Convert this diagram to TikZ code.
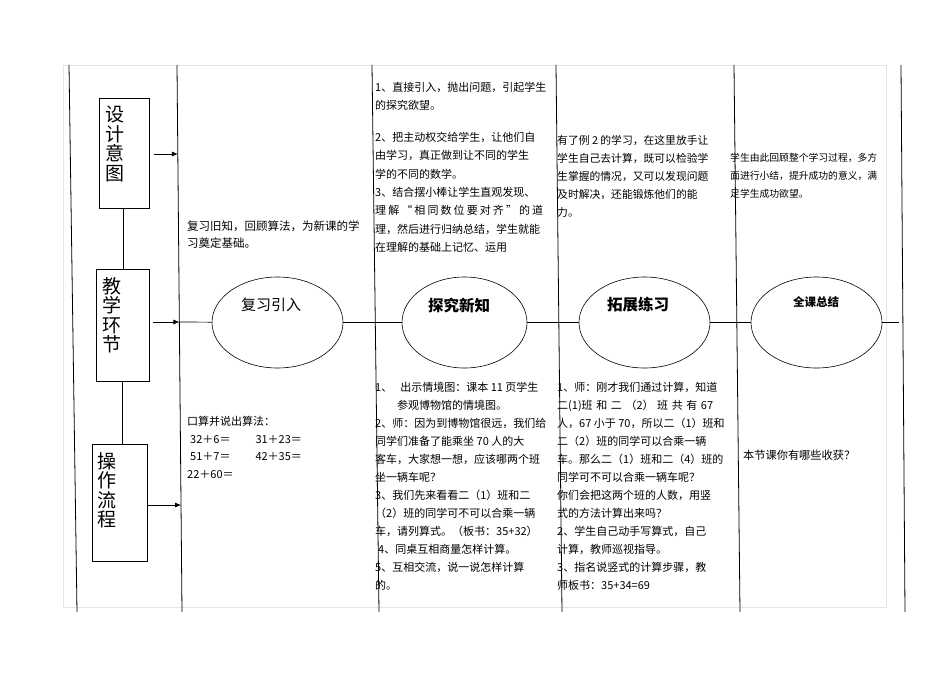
\documentclass[tikz,border=0pt]{standalone}
\usepackage{fontspec}
\newfontfamily\cjk{Noto Sans CJK SC}
\usetikzlibrary{arrows.meta,shapes.geometric}
\begin{document}
\begin{tikzpicture}[x=1pt,y=-1pt,
  vline/.style={line width=0.8pt,black},
  lbox/.style={draw,line width=0.7pt,anchor=north west,inner sep=0},
  vlabel/.style={anchor=north west,inner sep=0,align=left,font=\cjk\fontsize{19}{19.5}\selectfont},
  oval/.style={draw,ellipse,line width=0.6pt,minimum width=131,minimum height=91,inner sep=0},
  conn/.style={line width=0.7pt},
  arr/.style={line width=0.7pt,-{Latex[length=6pt,width=5pt]}},
  txt/.style={anchor=north west,inner sep=0,align=left,font=\cjk\fontsize{11}{18}\selectfont},
  small/.style={anchor=north west,inner sep=0,align=left,font=\cjk\fontsize{9.8}{18}\selectfont},
  olabel/.style={inner sep=0,font=\cjk\fontsize{15}{15}\selectfont}]
\useasboundingbox[fill=white] (0,0) rectangle (950,672);
% faint page frame
\draw[gray!20,line width=0.6pt] (63,65) rectangle (886,607);
% vertical lines
\coordinate (L1t) at (69,65);  \coordinate (L1b) at (77,612);
\coordinate (L2t) at (177,65); \coordinate (L2b) at (182,612);
\coordinate (L3t) at (372,65); \coordinate (L3b) at (379,612);
\coordinate (L4t) at (556,65); \coordinate (L4b) at (562,612);
\coordinate (L5t) at (734,65); \coordinate (L5b) at (740,612);
\coordinate (L6t) at (901,65); \coordinate (L6b) at (905,612);
\foreach \i in {1,...,6} {\draw[vline] (L\i t) -- (L\i b);}
% left boxes
\node[lbox,minimum width=50,minimum height=110] (b1) at (99,98) {};
\node[lbox,minimum width=53,minimum height=112] (b2) at (96,269) {};
\node[lbox,minimum width=55,minimum height=117] (b3) at (92,444) {};
\node[vlabel] (t1) at (105,106) {设\\计\\意\\图};
\node[vlabel] (t2) at (102,277) {教\\学\\环\\节};
\node[vlabel] (t3) at (97,452) {操\\作\\流\\程};
\draw[conn] (b1.south -| 123,0) -- (b2.north -| 123,0);
\draw[conn] (b2.south -| 122,0) -- (b3.north -| 122,0);
\coordinate (a1) at (177.9,154);
\coordinate (a2) at (179.4,322);
\coordinate (a3) at (181.1,505);
\draw[arr] ([xshift=4]b1.east |- a1) -- (a1);
\draw[arr] ([xshift=3]b2.east |- a2) -- (a2);
\draw[arr] (b3.east |- a3) -- (a3);
% ellipses
\node[oval] (e1) at (277.5,322.5) {};
\node[oval,minimum width=125] (e2) at (464.5,322.5) {};
\node[oval] (e3) at (644.5,322.5) {};
\node[oval] (e4) at (816.5,322.5) {};
\coordinate (eend) at (899,322.5);
\draw[conn] (a2) -- (e1);
\draw[conn] (e1) -- (e2);
\draw[conn] (e2) -- (e3);
\draw[conn] (e3) -- (e4);
\draw[conn] (e4) -- (eend);
\node[olabel] (l1) at (271,305) {复习引入};
\node[olabel,font=\cjk\bfseries\fontsize{15.5}{15.5}\selectfont] (l2) at (459,305) {探究新知};
\node[olabel,font=\cjk\bfseries\fontsize{15.5}{15.5}\selectfont] (l3) at (638,305) {拓展练习};
\node[olabel,font=\cjk\bfseries\fontsize{11.5}{11.5}\selectfont] (l4) at (816,302) {全课总结};
% column 2
\node[txt,font=\cjk\fontsize{11.5}{17}\selectfont] (c2a) at (187,221) {复习旧知，回顾算法，为新课的学\\习奠定基础。};
\node[txt,font=\cjk\fontsize{11}{17.5}\selectfont] (c2b) at (187,416) {口算并说出算法：\\
\hspace*{3pt}32＋6＝\hspace{25pt}31＋23＝\\
\hspace*{3pt}51＋7＝\hspace{25pt}42＋35＝\\
22＋60＝};
% column 3
\node[txt] (c3a) at (375,82) {1、直接引入，抛出问题，引起学生\\的探究欲望。};
\node[txt,font=\cjk\fontsize{11}{18.3}\selectfont] (c3b) at (375,132) {2、把主动权交给学生，让他们自\\由学习，真正做到让不同的学生\\学的不同的数学。\\3、结合摆小棒让学生直观发现、\\\makebox[168pt][s]{理\hfil 解\hfil “\hfil 相\hfil 同\hfil 数\hfil 位\hfil 要\hfil 对\hfil 齐\hfil ”\hfil 的\hfil 道}\\理，然后进行归纳总结，学生就能\\在理解的基础上记忆、运用};
\node[txt] (c3c) at (375,382) {1、\hspace{8pt}出示情境图：课本 11 页学生\\
\hspace*{22pt}参观博物馆的情境图。\\
2、师：因为到博物馆很远，我们给\\同学们准备了能乘坐 70 人的大\\客车，大家想一想，应该哪两个班\\坐一辆车呢？\\3、我们先来看看二（1）班和二\\（2）班的同学可不可以合乘一辆\\车，请列算式。（板书：35+32）\\
\hspace*{3pt}4、同桌互相商量怎样计算。\\5、互相交流，说一说怎样计算\\的。};
% column 4
\node[txt,font=\cjk\fontsize{10.8}{18}\selectfont] (c4a) at (557,135) {有了例 2 的学习，在这里放手让\\学生自己去计算，既可以检验学\\生掌握的情况，又可以发现问题\\及时解决，还能锻炼他们的能\\力。};
\node[txt] (c4b) at (557,382) {1、师：刚才我们通过计算，知道\\\makebox[156pt][s]{二(1)班\hfil 和\hfil 二\hfil （2）\hfil 班\hfil 共\hfil 有\hfil 67}\\人，67 小于 70，所以二（1）班和\\二（2）班的同学可以合乘一辆\\车。那么二（1）班和二（4）班的\\同学可不可以合乘一辆车呢？\\你们会把这两个班的人数，用竖\\式的方法计算出来吗？\\2、学生自己动手写算式，自己\\计算，教师巡视指导。\\3、指名说竖式的计算步骤，教\\师板书：35+34=69};
% column 5
\node[small] (c5a) at (730,152.5) {学生由此回顾整个学习过程，多方\\面进行小结，提升成功的意义，满\\足学生成功欲望。};
\node[txt,font=\cjk\fontsize{11.2}{18}\selectfont] (c5b) at (743,450) {本节课你有哪些收获？};
\end{tikzpicture}
\end{document}
